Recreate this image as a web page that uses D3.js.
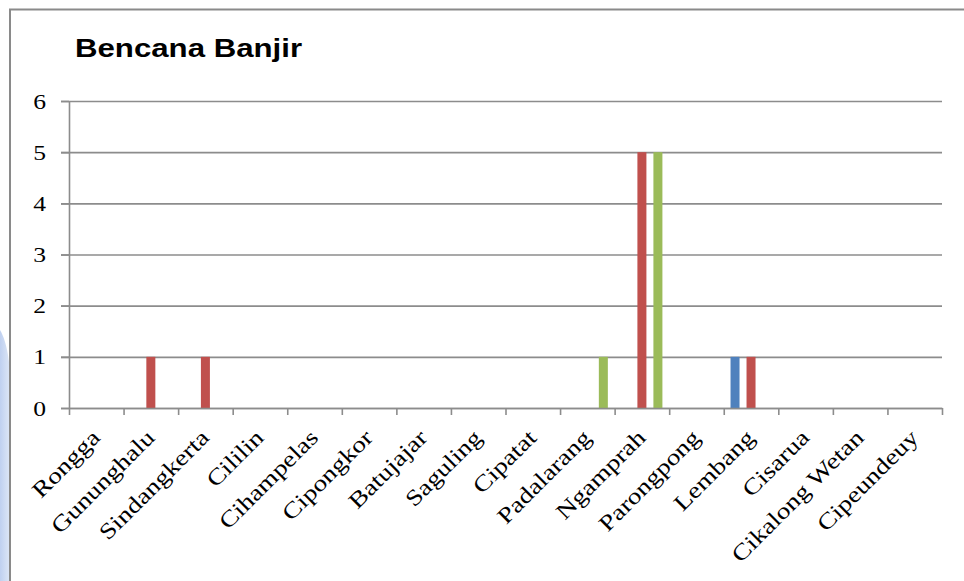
<!DOCTYPE html>
<html>
<head>
<meta charset="utf-8">
<script src="https://cdn.jsdelivr.net/npm/d3@7"></script>
<style>
  html, body { margin: 0; padding: 0; background: #fff; }
  svg { display: block; }
</style>
</head>
<body>
<svg id="chart" width="964" height="581"></svg>
<script>
// Kecamatan (sub-districts) on the category axis
const categories = ["Rongga", "Gununghalu", "Sindangkerta", "Cililin", "Cihampelas", "Cipongkor",
  "Batujajar", "Saguling", "Cipatat", "Padalarang", "Ngamprah", "Parongpong", "Lembang",
  "Cisarua", "Cikalong Wetan", "Cipeundeuy"];

// Number of flood events per series
const series1 = [0, 0, 0, 0, 0, 0, 0, 0, 0, 0, 0, 0, 1, 0, 0, 0];
const series2 = [0, 1, 1, 0, 0, 0, 0, 0, 0, 0, 5, 0, 1, 0, 0, 0];
const series3 = [0, 0, 0, 0, 0, 0, 0, 0, 0, 1, 5, 0, 0, 0, 0, 0];

const yTicks = [0, 1, 2, 3, 4, 5, 6];
const titleText = "Bencana Banjir";

const seriesList = [
  { key: "s1", values: series1, color: "#4F81BD" },
  { key: "s2", values: series2, color: "#C0504D" },
  { key: "s3", values: series3, color: "#9BBB59" }
];

const svg = d3.select("#chart");
const gridColor = "#8c8c8c";
const serif = "'Liberation Serif', 'Times New Roman', serif";

const plot = { left: 69, right: 942, top: 101, bottom: 408 };

// Soft blue strip on the left edge
const defs = svg.append("defs");
const grad = defs.append("linearGradient").attr("id", "edgeBlue")
  .attr("x1", "0").attr("x2", "1").attr("y1", "0").attr("y2", "0");
grad.append("stop").attr("offset", "0").attr("stop-color", "#bfd0f0");
grad.append("stop").attr("offset", "1").attr("stop-color", "#dbe5f6");
svg.append("path")
  .attr("d", "M0,330 C3,335 7,345 9,362 L9,581 L0,581 Z")
  .attr("fill", "url(#edgeBlue)");

// Chart frame (top and left edges visible)
svg.append("path")
  .attr("d", "M10,581 L10,9.5 L964,9.5")
  .attr("fill", "none")
  .attr("stroke", "#8a8a8a")
  .attr("stroke-width", 2);

// Title
svg.append("text")
  .attr("transform", "translate(75,57) scale(1.2,1)")
  .attr("font-family", "'Liberation Sans', Arial, sans-serif")
  .attr("font-weight", "bold")
  .attr("font-size", 26)
  .attr("fill", "#000")
  .text(titleText);

// Scales
const x = d3.scaleBand().domain(categories).range([plot.left, plot.right]).paddingInner(0).paddingOuter(0);
const xEdge = d3.scaleLinear().domain([0, categories.length]).range([plot.left, plot.right]);
const y = d3.scaleLinear().domain([0, 6]).range([plot.bottom, plot.top]);
const bw = x.bandwidth();
const x1 = d3.scaleBand().domain(seriesList.map(s => s.key))
  .range([bw / 2 - 24, bw / 2 + 24])
  .paddingInner(7 / 16).paddingOuter(7 / 32);

// Horizontal gridlines
const grid = svg.append("g")
  .attr("transform", `translate(${plot.left - 8},0)`)
  .call(d3.axisLeft(y).tickValues(yTicks).tickSize(-(plot.right - plot.left + 8)).tickFormat(""));
grid.select(".domain").remove();
grid.selectAll(".tick line").attr("stroke", gridColor).attr("stroke-width", 1.6);

// Y axis with labels
const yAxis = svg.append("g")
  .attr("transform", `translate(${plot.left},0)`)
  .call(d3.axisLeft(y).tickValues(yTicks).tickSize(8).tickSizeOuter(0).tickFormat(d3.format("d")));
yAxis.select(".domain").attr("stroke", gridColor).attr("stroke-width", 1.6);
yAxis.selectAll(".tick line").attr("stroke", gridColor).attr("stroke-width", 1.6);
yAxis.selectAll(".tick text")
  .attr("x", null)
  .attr("dy", "0.34em")
  .attr("transform", "translate(-23,0) scale(1.22,1)")
  .attr("text-anchor", "end")
  .attr("font-family", serif)
  .attr("font-size", 21)
  .attr("fill", "#000");

// Bars
const groups = svg.append("g").selectAll("g")
  .data(seriesList)
  .join("g")
  .attr("fill", d => d.color);
groups.selectAll("rect")
  .data(s => s.values.map((v, i) => ({ key: s.key, cat: categories[i], v })).filter(d => d.v > 0))
  .join("rect")
  .attr("x", d => x(d.cat) + x1(d.key))
  .attr("width", x1.bandwidth())
  .attr("y", d => y(d.v))
  .attr("height", d => y(0) - y(d.v));

// X axis: baseline with ticks between categories
const xAxis = svg.append("g")
  .attr("transform", `translate(0,${plot.bottom})`)
  .call(d3.axisBottom(xEdge).tickValues(d3.range(categories.length + 1)).tickSize(7).tickSizeOuter(0).tickFormat(""));
xAxis.select(".domain").attr("stroke", gridColor).attr("stroke-width", 1.6);
xAxis.selectAll(".tick line").attr("stroke", gridColor).attr("stroke-width", 1.6);

// Rotated category labels
svg.append("g").selectAll("text")
  .data(categories)
  .join("text")
  .attr("transform", d => `translate(${x(d) + bw / 2 + 5},439) rotate(-45) scale(1.22,1)`)
  .attr("text-anchor", "end")
  .attr("font-family", serif)
  .attr("font-size", 22.5)
  .attr("fill", "#000")
  .text(d => d);
</script>
</body>
</html>
